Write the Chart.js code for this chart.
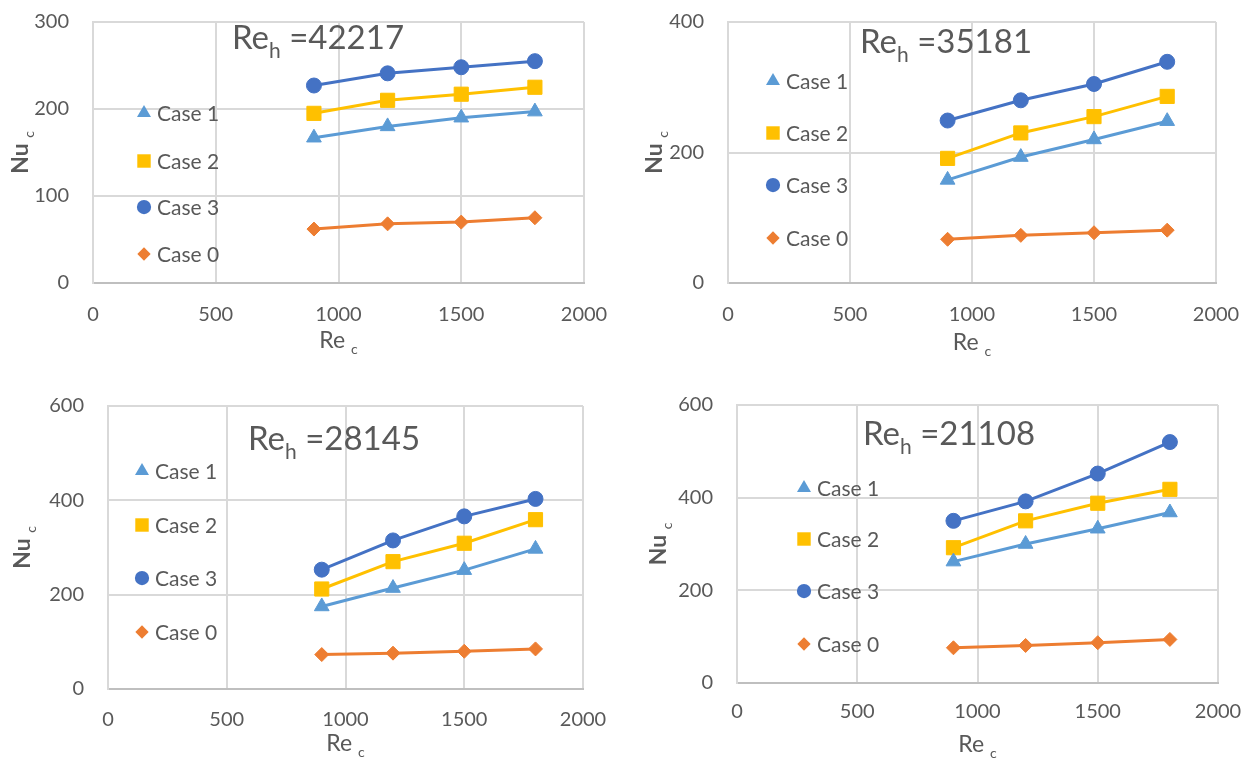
<!DOCTYPE html>
<html>
<head>
<meta charset="utf-8">
<script src="https://cdn.jsdelivr.net/npm/chart.js@4.4.0/dist/chart.umd.min.js"></script>
<style>
  body { margin: 0; background: #fff; width: 1255px; height: 760px; position: relative; overflow: hidden; }
  canvas { position: absolute; }
</style>
</head>
<body>
<canvas id="c0" width="627" height="380" style="left:0;top:0"></canvas>
<canvas id="c1" width="628" height="380" style="left:627px;top:0"></canvas>
<canvas id="c2" width="627" height="380" style="left:0;top:380px"></canvas>
<canvas id="c3" width="628" height="380" style="left:627px;top:380px"></canvas>
<script>
// x values (Re_c) shared by all panels
const reC = [900, 1200, 1500, 1800];
const xTicks = [0, 500, 1000, 1500, 2000];

// one entry per panel
const reH = ["42217", "35181", "28145", "21108"];
const yMax = [300, 400, 600, 600];
const yStep = [100, 200, 200, 200];

// Nu_c, one row per panel
const case0 = [[62, 68, 70, 75], [67, 73, 77, 81], [73, 76, 80, 85], [76, 81, 87, 94]];
const case1 = [[167, 180, 190, 197], [158, 193, 220, 248], [175, 214, 252, 297], [262, 300, 333, 368]];
const case2 = [[195, 210, 217, 225], [191, 230, 255, 286], [212, 270, 309, 359], [292, 350, 388, 418]];
const case3 = [[227, 241, 248, 255], [249, 280, 305, 339], [253, 315, 366, 403], [350, 392, 452, 520]];

const series = [
  { label: "Case 0", values: case0, color: "#ED7D31", style: "rectRot", r: 7 },
  { label: "Case 1", values: case1, color: "#5B9BD5", style: "triangle", r: 8.5 },
  { label: "Case 2", values: case2, color: "#FFC000", style: "rect", r: 10 },
  { label: "Case 3", values: case3, color: "#4472C4", style: "circle", r: 7.5 },
];
const legendOrder = [1, 2, 3, 0];

// layout of each panel inside its canvas
const panels = [
  { yW: 93,  padR: 43, padT: 22, xH: 97, xPad: 20, legX: 144, legY: [113, 161, 207, 254], tX: 232, tY: 49, nuX: 28, reY: 340 },
  { yW: 101, padR: 39, padT: 22, xH: 97, xPad: 20, legX: 146, legY: [81, 133, 185, 238],  tX: 233, tY: 53, nuX: 35, reY: 342 },
  { yW: 108, padR: 44, padT: 26, xH: 71, xPad: 19, legX: 142, legY: [91, 145, 198, 252],  tX: 248, tY: 70, nuX: 30, reY: 363 },
  { yW: 110, padR: 37, padT: 25, xH: 77, xPad: 17, legX: 177, legY: [108, 159, 211, 264], tX: 236, tY: 65, nuX: 39, reY: 364 },
];

const TEXT = "#595959";
const FONT = "Lato";

const deco = {
  id: "deco",
  afterDraw(chart, args, opts) {
    const ctx = chart.ctx;
    const p = panels[opts.idx];
    const area = chart.chartArea;
    ctx.save();
    ctx.fillStyle = TEXT;
    ctx.textBaseline = "alphabetic";
    ctx.textAlign = "left";

    // Re_h annotation
    ctx.font = `33px ${FONT}`;
    ctx.fillText("Re", p.tX, p.tY);
    let x = p.tX + ctx.measureText("Re").width;
    ctx.font = `21px ${FONT}`;
    ctx.fillText("h", x, p.tY + 9);
    x += ctx.measureText("h").width;
    ctx.font = `33px ${FONT}`;
    ctx.fillText(" =" + reH[opts.idx], x, p.tY);

    // legend inside the plot
    ctx.textBaseline = "middle";
    legendOrder.forEach((si, k) => {
      const s = series[si];
      ctx.fillStyle = s.color;
      ctx.strokeStyle = s.color;
      Chart.helpers.drawPoint(ctx, { pointStyle: s.style, radius: s.r * 0.95, rotation: 0, borderWidth: 0 }, p.legX, p.legY[k]);
      ctx.fillStyle = TEXT;
      ctx.font = `21px ${FONT}`;
      ctx.fillText(s.label, p.legX + 13, p.legY[k] + 1);
    });

    // x axis title: Re c
    ctx.textBaseline = "alphabetic";
    const cx = (area.left + area.right) / 2;
    ctx.font = `23px ${FONT}`;
    const wRe = ctx.measureText("Re ").width;
    ctx.font = `14px ${FONT}`;
    const wc = ctx.measureText("c").width;
    let sx = cx - (wRe + wc) / 2;
    ctx.font = `23px ${FONT}`;
    ctx.fillText("Re ", sx, p.reY + 8);
    ctx.font = `14px ${FONT}`;
    ctx.fillText("c", sx + wRe, p.reY + 14);

    // y axis title: Nu c (rotated, baseline at nuX)
    const cy = (area.top + area.bottom) / 2;
    ctx.translate(p.nuX, cy);
    ctx.rotate(-Math.PI / 2);
    ctx.font = `bold 23px ${FONT}`;
    const wNu = ctx.measureText("Nu ").width;
    ctx.font = `14px ${FONT}`;
    const wc2 = ctx.measureText("c").width;
    sx = -(wNu + wc2) / 2;
    ctx.font = `bold 23px ${FONT}`;
    ctx.fillText("Nu ", sx, 0);
    ctx.font = `14px ${FONT}`;
    ctx.fillText("c", sx + wNu, 6);
    ctx.restore();
  },
};

// keep the plot box where the layout says, not where label overflow pushes it
function noOverflow(scale) {
  scale.paddingTop = 0;
  scale.paddingBottom = 0;
  scale.paddingLeft = 0;
  scale.paddingRight = 0;
}

function build() {
  Chart.defaults.font.family = FONT;
  Chart.defaults.color = TEXT;

  panels.forEach((p, i) => {
    const datasets = series.map((s) => ({
      label: s.label,
      data: reC.map((xv, j) => ({ x: xv, y: s.values[i][j] })),
      showLine: true,
      borderColor: s.color,
      backgroundColor: s.color,
      borderWidth: 3,
      pointStyle: s.style,
      pointRadius: s.r,
      pointBorderWidth: 1,
      pointBackgroundColor: s.color,
      pointBorderColor: s.color,
    }));

    new Chart(document.getElementById("c" + i), {
      type: "scatter",
      data: { datasets },
      plugins: [deco],
      options: {
        responsive: false,
        animation: false,
        layout: { padding: { left: 0, right: p.padR, top: p.padT, bottom: 0 } },
        plugins: {
          legend: { display: false },
          tooltip: { enabled: false },
          deco: { idx: i },
        },
        scales: {
          x: {
            type: "linear",
            min: 0,
            max: 2000,
            afterBuildTicks: (scale) => { scale.ticks = xTicks.map((v) => ({ value: v })); },
            afterFit: (scale) => { scale.height = p.xH; noOverflow(scale); },
            ticks: { padding: p.xPad, font: { size: 20 }, color: TEXT, callback: (v) => String(v) },
            grid: { color: "#d9d9d9", lineWidth: 2, drawTicks: false },
            border: { color: "#bfbfbf", width: 2 },
          },
          y: {
            type: "linear",
            min: 0,
            max: yMax[i],
            ticks: { stepSize: yStep[i], padding: 24, font: { size: 20 }, color: TEXT, callback: (v) => String(v) },
            afterFit: (scale) => { scale.width = p.yW; noOverflow(scale); },
            grid: { color: "#d9d9d9", lineWidth: 2, drawTicks: false },
            border: { color: "#d9d9d9", width: 2 },
          },
        },
      },
    });
  });
}

document.fonts.load(`20px ${FONT}`).then(build, build);
</script>
</body>
</html>
